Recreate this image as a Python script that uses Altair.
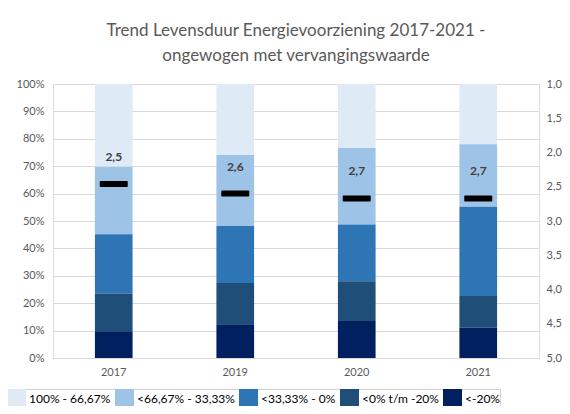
import altair as alt
import pandas as pd

years = ["2017", "2019", "2020", "2021"]
categories = ["100% - 66,67%", "<66,67% - 33,33%", "<33,33% - 0%", "<0% t/m -20%", "<-20%"]
colors = ["#DEEBF7", "#9DC3E6", "#2E75B6", "#1F4E79", "#002060"]
# shares per category (fraction of 1), per year
share_100_6667 = [0.302, 0.259, 0.234, 0.220]
share_6667_3333 = [0.246, 0.259, 0.279, 0.228]
share_3333_0 = [0.217, 0.208, 0.207, 0.326]
share_0_m20 = [0.140, 0.151, 0.145, 0.115]
share_lt_m20 = [0.095, 0.123, 0.135, 0.111]
lifespan = [2.46, 2.60, 2.67, 2.67]

series = [share_100_6667, share_6667_3333, share_3333_0, share_0_m20, share_lt_m20]
rows = []
for ci, (cat, vals) in enumerate(zip(categories, series)):
    for y, v in zip(years, vals):
        rows.append({"jaar": y, "categorie": cat, "aandeel": v, "volgorde": 4 - ci})
bars_df = pd.DataFrame(rows)
marker_df = pd.DataFrame({
    "jaar": years,
    "levensduur": lifespan,
    "label": [f"{v:.1f}".replace(".", ",") for v in lifespan],
})

FONT = "Lato"
GRAY = "#595959"

x_enc = alt.X("jaar:N", sort=years, title=None,
              scale=alt.Scale(paddingInner=0.69, paddingOuter=0.345),
              axis=alt.Axis(labelAngle=0, ticks=False, domain=False, labelColor=GRAY,
                            labelFontSize=11, labelPadding=8, labelFont=FONT))

bars = alt.Chart(bars_df).mark_bar().encode(
    x=x_enc,
    y=alt.Y("aandeel:Q", stack="zero", title=None,
            scale=alt.Scale(domain=[0, 1], nice=False),
            axis=alt.Axis(format="%", values=[i / 10 for i in range(11)], ticks=False,
                          domain=False, labelColor=GRAY, labelFontSize=11, labelPadding=9,
                          labelFont=FONT, gridColor="#d9d9d9", gridWidth=1,
                          labelOverlap=False)),
    color=alt.Color("categorie:N", sort=categories,
                    scale=alt.Scale(domain=categories, range=colors),
                    legend=alt.Legend(orient="none", direction="horizontal", columns=5,
                                      legendX=-46, legendY=305, title=None,
                                      symbolType="square", symbolSize=361,
                                      symbolStrokeWidth=0, labelFontSize=12,
                                      labelColor="#000000", labelFont=FONT,
                                      columnPadding=4, labelOffset=3, padding=0,
                                      strokeColor="#d0d0d0")),
    order=alt.Order("volgorde:Q", sort="ascending"),
)

y2_scale = alt.Scale(domain=[1, 5], reverse=True, nice=False)
y2_axis = alt.Axis(orient="right", values=[1, 1.5, 2, 2.5, 3, 3.5, 4, 4.5, 5],
                   labelExpr="replace(format(datum.value, '.1f'), '.', ',')",
                   ticks=False, domain=False, grid=False, labelColor=GRAY,
                   labelFontSize=11, labelPadding=7, labelFont=FONT,
                   labelOverlap=False)

ticks = alt.Chart(marker_df).mark_tick(color="#000000", size=28, thickness=6, opacity=1,
                                       orient="horizontal", cornerRadius=1).encode(
    x=alt.X("jaar:N", sort=years),
    y=alt.Y("levensduur:Q", title=None, scale=y2_scale, axis=y2_axis))

labels = alt.Chart(marker_df).mark_text(dy=-27, fontWeight="bold", fontSize=12,
                                        color="#404040", font=FONT).encode(
    x=alt.X("jaar:N", sort=years),
    y=alt.Y("levensduur:Q", title=None, scale=y2_scale, axis=y2_axis),
    text="label:N")

right = alt.layer(ticks, labels)

chart = alt.layer(bars, right).resolve_scale(y="independent", color="independent").properties(
    width=486, height=274,
    autosize=alt.AutoSizeParams(type="none"),
    padding={"left": 45, "top": 76, "right": 23, "bottom": 48},
    title=alt.TitleParams(
        text=["Trend Levensduur Energievoorziening 2017-2021 -", "ongewogen met vervangingswaarde"],
        fontSize=17, font=FONT, fontWeight="normal", color=GRAY, lineHeight=25,
        offset=13, anchor="middle"),
).configure_view(stroke=None).configure(background="white")

chart.save("out.html", embed_options={"renderer": "svg", "actions": False})
